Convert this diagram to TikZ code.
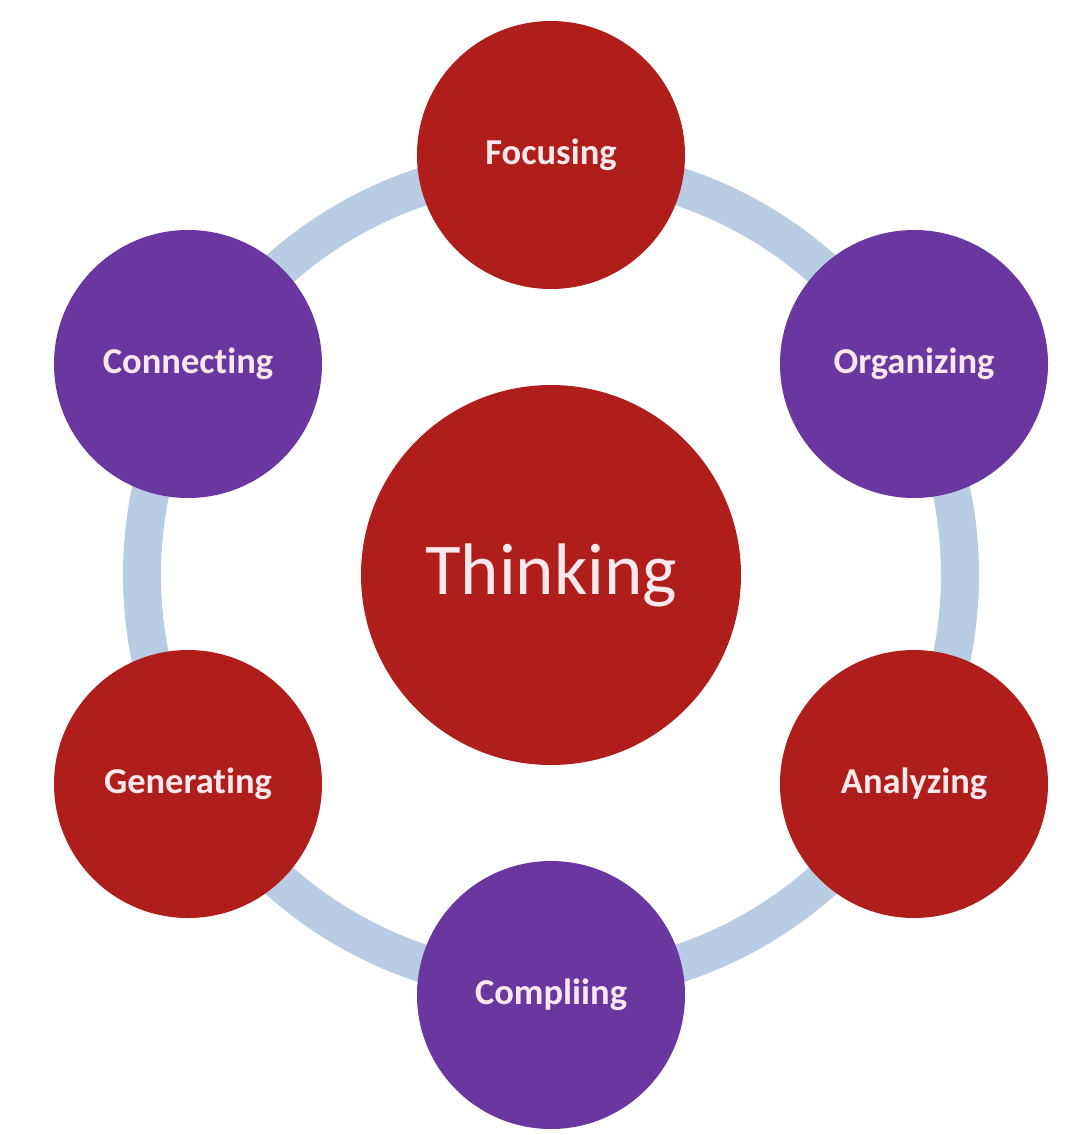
\documentclass[tikz,border=0pt]{standalone}
\usepackage{fontspec}
\setmainfont[Ligatures=NoCommon]{Carlito}
\definecolor{ringblue}{RGB}{184,204,228}
\definecolor{dred}{RGB}{176,30,28}
\definecolor{dpurple}{RGB}{106,54,160}
\definecolor{pinkwhite}{RGB}{250,232,236}
\begin{document}
\begin{tikzpicture}[x=1pt,y=-1pt,
  ring/.style={draw=ringblue,line width=38pt},
  hub/.style={circle,fill=dred,minimum size=380pt,inner sep=0pt,text=pinkwhite,font=\fontsize{73}{80}\selectfont},
  redball/.style={circle,fill=dred,minimum size=268pt,inner sep=0pt,text=pinkwhite,font=\bfseries\fontsize{36.5}{40}\selectfont},
  purpleball/.style={circle,fill=dpurple,minimum size=268pt,inner sep=0pt,text=pinkwhite,font=\bfseries\fontsize{36.5}{40}\selectfont}]
\useasboundingbox[fill=white] (0,0) rectangle (1080,1135);
\coordinate (c) at (551,575);
\draw[ring] (c) circle (409);
\node[hub] (think) at (c) {Thinking};
\node[redball] (focus) at (551,155) {Focusing};
\node[purpleball] (organ) at (914,364) {Organizing};
\node[redball] (analy) at (914,784) {Analyzing};
\node[purpleball] (compl) at (551,995) {Compliing};
\node[redball] (gener) at (188,784) {Generating};
\node[purpleball] (conne) at (188,364) {Connecting};
\end{tikzpicture}
\end{document}
